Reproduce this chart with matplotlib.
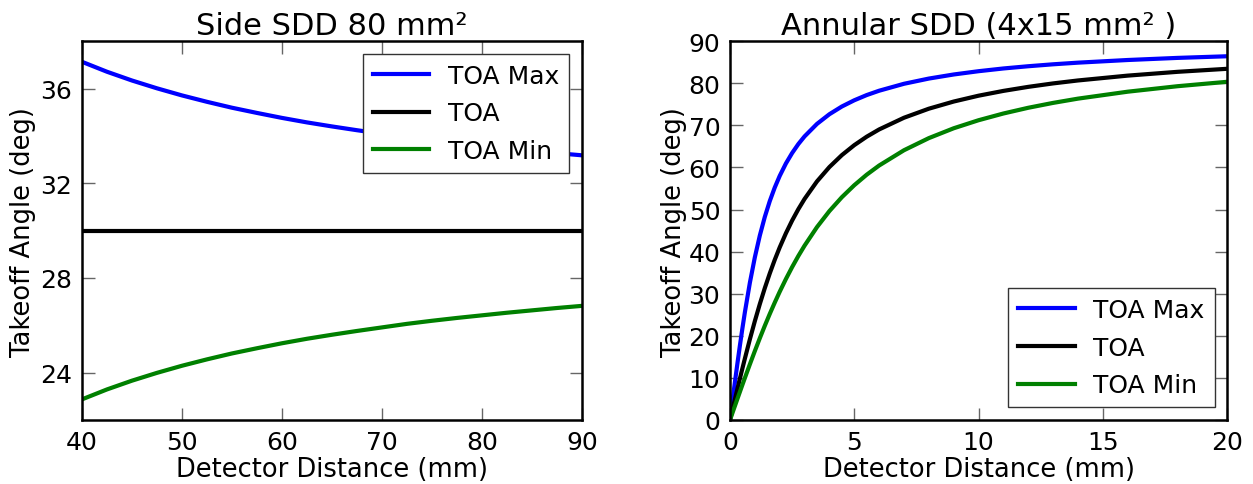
import matplotlib
matplotlib.use('Agg')
import matplotlib.pyplot as plt

# Side SDD 80 mm^2 (detector distance in mm, takeoff angle in deg)
side_dist = [40, 42.5, 45, 47.5, 50, 52.5, 55, 57.5, 60, 62.5, 65, 67.5, 70,
             72.5, 75, 77.5, 80, 82.5, 85, 87.5, 90]
side_max = [37.13, 36.71, 36.34, 36.01, 35.71, 35.44, 35.19, 34.97, 34.76, 34.57, 34.40,
            34.24, 34.09, 33.95, 33.81, 33.69, 33.58, 33.47, 33.37, 33.27, 33.18]
side_toa = [30.0] * len(side_dist)
side_min = [22.87, 23.29, 23.66, 23.99, 24.29, 24.56, 24.81, 25.03, 25.24, 25.43, 25.60,
            25.76, 25.91, 26.06, 26.19, 26.31, 26.42, 26.53, 26.63, 26.73, 26.82]

# Annular SDD (4x15 mm^2)
ann_dist = [0, 0.1, 0.2, 0.3, 0.4, 0.5, 0.6, 0.8, 1.0, 1.2, 1.4, 1.6, 1.8, 2.0, 2.25, 2.5,
            2.75, 3.0, 3.5, 4.0, 4.5, 5, 5.5, 6, 7, 8, 9, 10, 11, 12, 13, 14, 16, 18, 20]
ann_max = [0, 4.57, 9.09, 13.50, 17.75, 21.80, 25.64, 32.62, 38.66, 43.83, 48.24, 52.00,
           55.22, 57.99, 60.95, 63.43, 65.56, 67.38, 70.35, 72.65, 74.48, 75.96, 77.20,
           78.23, 79.88, 81.12, 82.09, 82.87, 83.52, 84.05, 84.51, 84.90, 85.53, 86.03, 86.42]
ann_toa = [0, 2.49, 4.97, 7.43, 9.87, 12.27, 14.62, 19.18, 23.50, 27.55, 31.33, 34.82,
           38.05, 41.01, 44.37, 47.39, 50.09, 52.52, 56.69, 60.10, 62.93, 65.30, 67.31,
           69.03, 71.81, 73.96, 75.66, 77.05, 78.19, 79.15, 79.97, 80.67, 81.82, 82.72, 83.44]
ann_min = [0, 1.69, 3.37, 5.04, 6.71, 8.37, 10.01, 13.24, 16.39, 19.44, 22.38, 25.20,
           27.89, 30.47, 33.50, 36.33, 38.97, 41.42, 45.83, 49.64, 52.93, 55.78, 58.28,
           60.46, 64.09, 66.97, 69.31, 71.22, 72.82, 74.18, 75.34, 76.35, 78.00, 79.30, 80.35]

labels = ['TOA Max', 'TOA', 'TOA Min']
colors = ['#0000ff', 'black', '#008000']


def style_axes(ax, ylabelpad):
    ax.tick_params(direction='in', length=9, width=1, top=True, right=True,
                   labelsize=18, pad=7, color='#666666')
    for s in ax.spines.values():
        s.set_linewidth(1.8)
    ax.set_xlabel('Detector Distance (mm)', fontsize=18.5, labelpad=2)
    ax.set_ylabel('Takeoff Angle (deg)', fontsize=18.5, labelpad=ylabelpad)


def add_legend(ax, loc):
    leg = ax.legend(loc=loc, fontsize=18, fancybox=False, handlelength=2.25,
                    handletextpad=0.75, borderaxespad=0.5, labelspacing=0.55,
                    borderpad=0.4, framealpha=1)
    leg.get_frame().set_edgecolor('#333333')
    leg.get_frame().set_linewidth(1)


fig = plt.figure(figsize=(12.53, 4.85), dpi=100)
ax1 = fig.add_axes([0.0654, 0.132, 0.399, 0.781])
ax2 = fig.add_axes([0.5826, 0.132, 0.3967, 0.781])

for ys, lab, c in zip([side_max, side_toa, side_min], labels, colors):
    ax1.plot(side_dist, ys, color=c, lw=3, label=lab)
ax1.set_xlim(40, 90)
ax1.set_ylim(22, 38)
ax1.set_yticks([24, 28, 32, 36])
ax1.set_title('Side SDD 80 mm²', fontsize=22, pad=5)
style_axes(ax1, 3)
add_legend(ax1, 'upper right')

for ys, lab, c in zip([ann_max, ann_toa, ann_min], labels, colors):
    ax2.plot(ann_dist, ys, color=c, lw=3, label=lab)
ax2.set_xlim(0, 20)
ax2.set_ylim(0, 90)
ax2.set_yticks(range(0, 91, 10))
ax2.set_title('Annular SDD (4x15 mm² )', fontsize=22, pad=5)
style_axes(ax2, 1)
add_legend(ax2, 'lower right')

fig.savefig('out.png', dpi=100)
